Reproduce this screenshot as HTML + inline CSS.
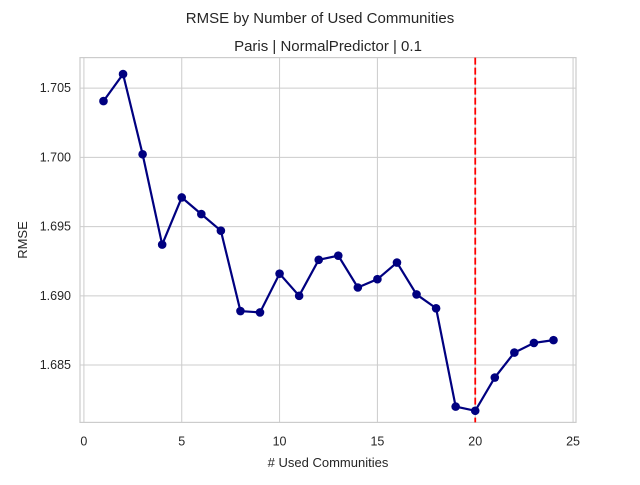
<!DOCTYPE html>
<html><head><meta charset="utf-8"><style>
body{margin:0;background:#fff;font-family:"Liberation Sans",Arial,sans-serif;}
svg text{font-family:"Liberation Sans",Arial,sans-serif;fill:#262626;}
</style></head><body>
<svg id="chart" width="640" height="480" xmlns="http://www.w3.org/2000/svg">
<text x="320" y="23" text-anchor="middle" font-size="15">RMSE by Number of Used Communities</text>
<text x="328" y="51" text-anchor="middle" font-size="15">Paris | NormalPredictor | 0.1</text>
<g id="grid"></g><g id="axes"></g><g id="marks"></g>
<text x="328" y="467" text-anchor="middle" font-size="13"># Used Communities</text>
<text x="27" y="240" text-anchor="middle" font-size="13" transform="rotate(-90 27 240)">RMSE</text>
</svg>
<script>
const xs=[1,2,3,4,5,6,7,8,9,10,11,12,13,14,15,16,17,18,19,20,21,22,23,24];
const rmse=[1.70406,1.70601,1.70022,1.6937,1.6971,1.6959,1.6947,1.6889,1.6888,1.6916,1.6900,1.6926,1.6929,1.6906,1.6912,1.6924,1.6901,1.6891,1.6820,1.6817,1.6841,1.6859,1.6866,1.6868];
const xTicks=[0,5,10,15,20,25];
const yTicks=[1.685,1.690,1.695,1.700,1.705];
const vline=20;
const L=80,R=576,T=57.6,B=422.4;
const xMin=-0.2,xMax=25.15,yMin=1.68086,yMax=1.7072;
const X=v=>L+(v-xMin)/(xMax-xMin)*(R-L);
const Y=v=>B-(v-yMin)/(yMax-yMin)*(B-T);
const NS="http://www.w3.org/2000/svg";
function mk(tag,attrs,parent){const e=document.createElementNS(NS,tag);for(const k in attrs)e.setAttribute(k,attrs[k]);document.getElementById(parent).appendChild(e);return e;}
xTicks.forEach(t=>{
 const g=mk('line',{x1:X(t),x2:X(t),y1:T,y2:B,stroke:'#cccccc','stroke-width':1},'grid');
 
 
 const tx=mk('text',{x:X(t),y:B+23,'text-anchor':'middle','font-size':12.5},'axes');tx.textContent=t;
 
 
});
yTicks.forEach(t=>{
 const g=mk('line',{x1:L,x2:R,y1:Y(t),y2:Y(t),stroke:'#cccccc','stroke-width':1},'grid');
 
 
 const tx=mk('text',{x:L-9,y:Y(t)+4,'text-anchor':'end','font-size':12.5},'axes');tx.textContent=t.toFixed(3);
 
 
});
const fr=mk('rect',{x:L,y:T,width:R-L,height:B-T,fill:'none',stroke:'#cccccc','stroke-width':1.2},'axes');


const vl=mk('line',{x1:X(vline),x2:X(vline),y1:T,y2:B,stroke:'#ff0000','stroke-width':1.8,'stroke-dasharray':'7,3'},'marks');


const pl=mk('polyline',{points:xs.map((x,i)=>X(x)+','+Y(rmse[i])).join(' '),fill:'none',stroke:'#000080','stroke-width':2.2},'marks');


xs.forEach((x,i)=>{
 const c=mk('circle',{cx:X(x),cy:Y(rmse[i]),r:4.3,fill:'#000080'},'marks');
 
 
});
</script>
</body></html>
